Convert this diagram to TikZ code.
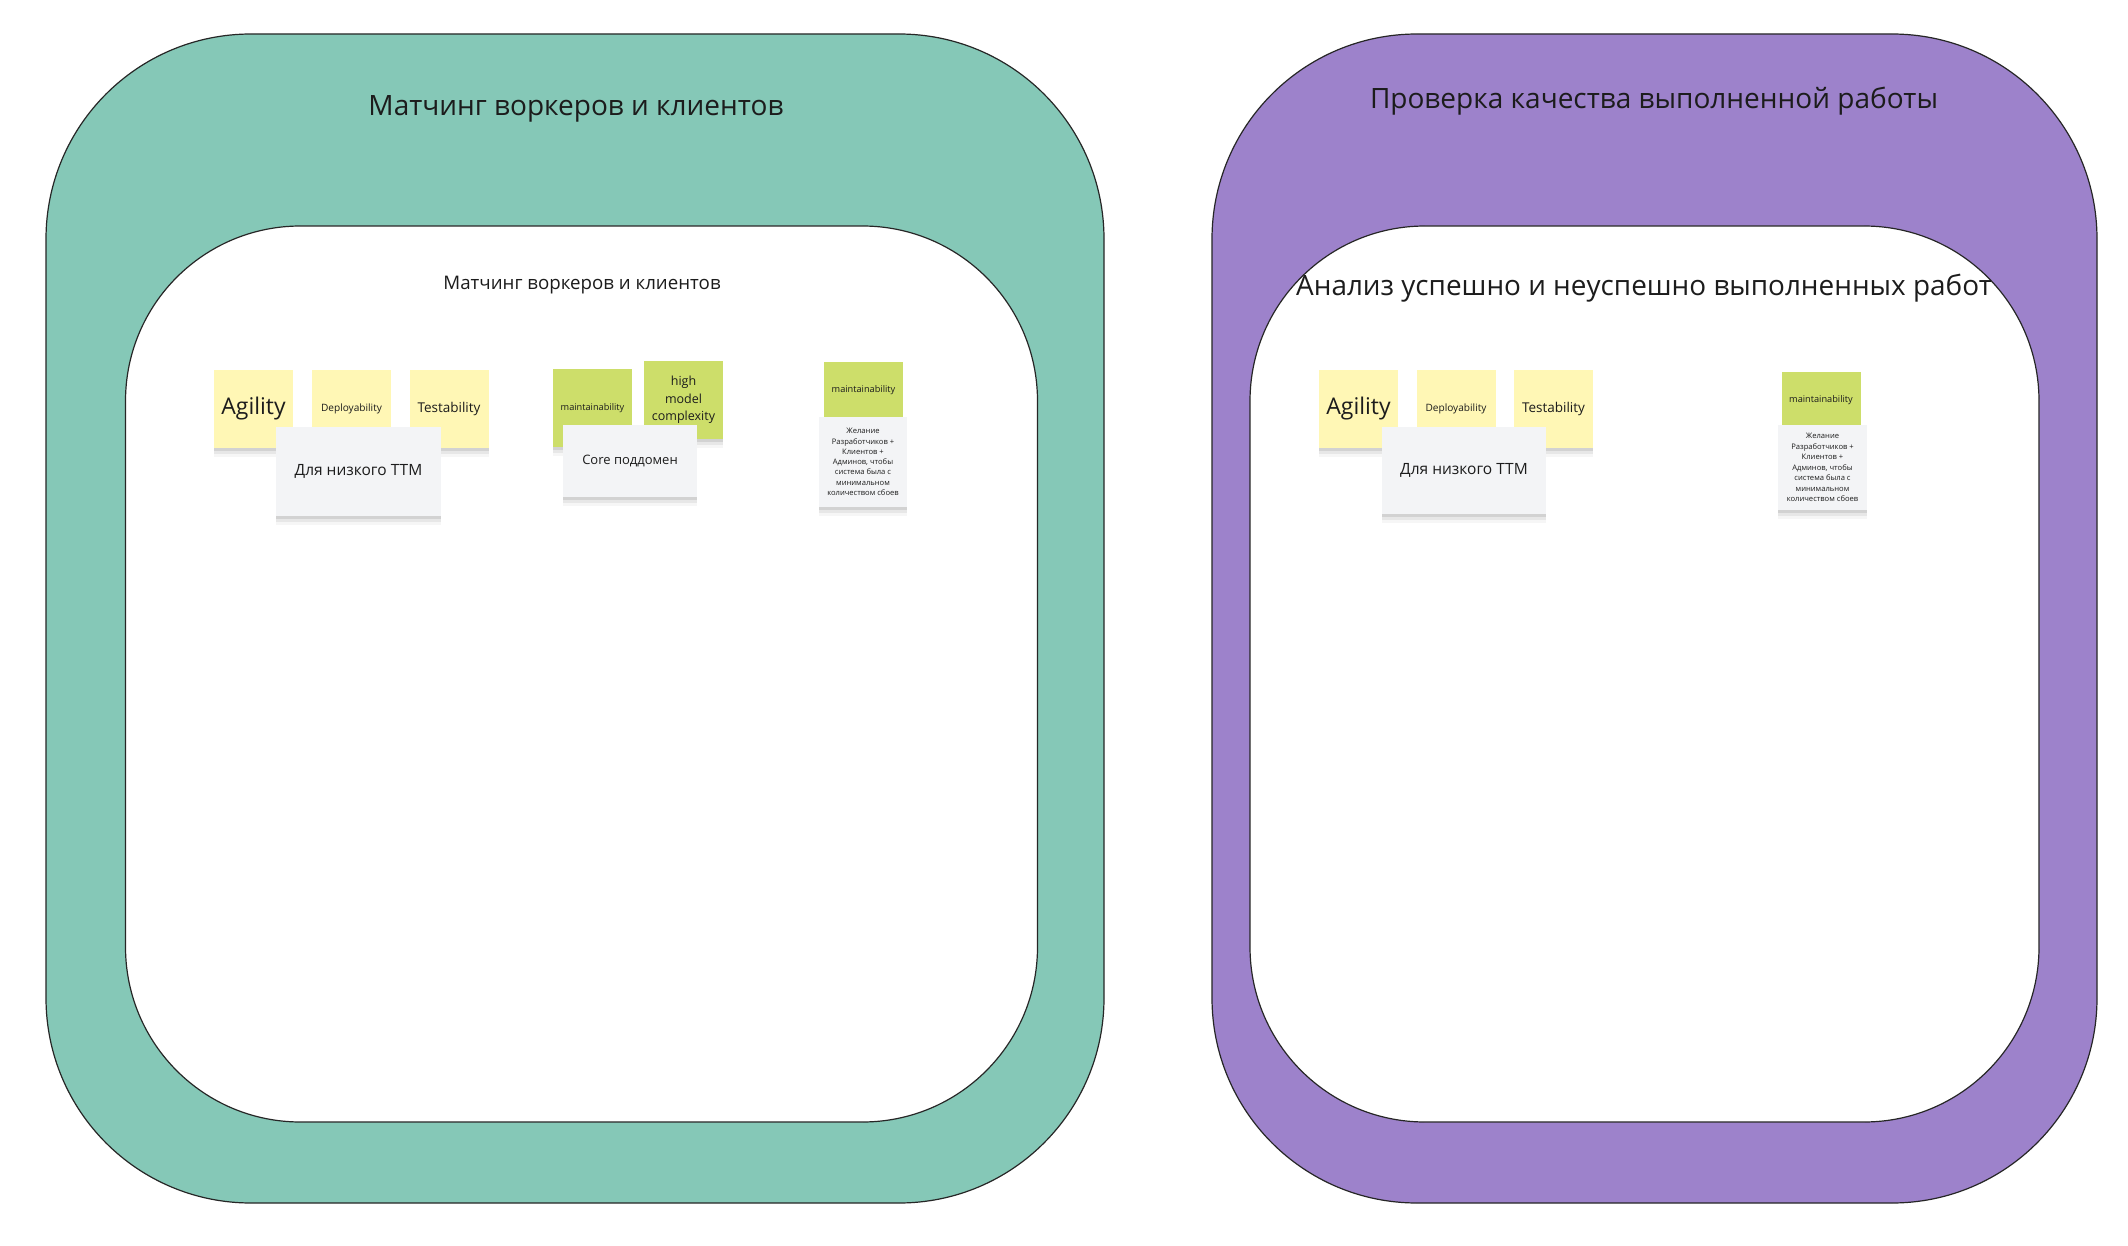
\documentclass[tikz,border=0pt]{standalone}
\usepackage{fontspec}
\setmainfont{Open Sans}
\definecolor{tealbg}{HTML}{85C8B7}
\definecolor{purplebg}{HTML}{9D82CB}
\definecolor{stickyY}{HTML}{FFF7B5}
\definecolor{stickyG}{HTML}{CDDE6A}
\definecolor{cardG}{HTML}{F3F4F6}
\definecolor{ink}{HTML}{1C1C1C}
\tikzset{
  frame/.style={draw=black!85, line width=1.2pt, inner sep=0pt, outer sep=0pt},
  shadowed/.style={
    preaction={fill=black, fill opacity=0.035, transform canvas={yshift=-9pt}},
    preaction={fill=black, fill opacity=0.06, transform canvas={yshift=-6pt}},
    preaction={fill=black, fill opacity=0.09, transform canvas={yshift=-3pt}}},
  sticky/.style={shadowed, inner sep=1pt, outer sep=0pt, align=center, text=ink},
  yel/.style={sticky, fill=stickyY, minimum width=79pt, minimum height=78pt},
  grn/.style={sticky, fill=stickyG},
  card/.style={sticky, fill=cardG},
  ttl/.style={anchor=base, text=ink, inner sep=0pt},
}
\begin{document}
\begin{tikzpicture}[x=1pt,y=-1pt]
\useasboundingbox (0,0) rectangle (2128,1246);
\fill[white] (0,0) rectangle (2128,1246);

% ---------- left frame ----------
\node[frame, fill=tealbg, rounded corners=205pt, minimum width=1058pt, minimum height=1169pt] (outerL) at (575,618.5) {};
\node[frame, fill=white, rounded corners=175pt, minimum width=912pt, minimum height=896pt] (innerL) at (581.5,674) {};
\node[ttl, font=\fontsize{28}{33}\selectfont] (titleL) at (576,116) {Матчинг воркеров и клиентов};
\node[ttl, font=\fontsize{18.7}{23}\selectfont] (subL) at (582,290) {Матчинг воркеров и клиентов};

\node[yel, font=\fontsize{23}{27}\selectfont] (agL) at (253.5,409) {Agility};
\node[yel, font=\fontsize{10.1}{12}\selectfont] (deL) at (351.5,409) {Deployability};
\node[yel, font=\fontsize{13.5}{16}\selectfont] (teL) at (449,409) {Testability};
\node[card, minimum width=165pt, minimum height=89pt, font=\fontsize{15.5}{19}\selectfont] (ttmL) at (358.5,471.5) {Для низкого ТТМ};

\node[grn, minimum width=79pt, minimum height=78pt, font=\fontsize{9.2}{11}\selectfont] (mtL) at (592.5,408) {maintainability};
\node[grn, minimum width=79pt, minimum height=78pt, font=\fontsize{12.5}{17.5}\selectfont] (hmcL) at (683.5,400) {high\\model\\complexity};
\node[card, minimum width=134pt, minimum height=72pt, font=\fontsize{13}{16}\selectfont] (coreL) at (630,461) {Core поддомен};

\node[grn, minimum width=79pt, minimum height=78pt, anchor=north, font=\fontsize{9.2}{11}\selectfont, text depth=24pt] (mt2L) at (863.5,362) {maintainability};
\node[card, minimum width=88pt, minimum height=90pt, font=\fontsize{7.6}{10.3}\selectfont] (wishL) at (863,462) {Желание\\Разработчиков +\\Клиентов +\\Админов, чтобы\\система была с\\минимальном\\количеством сбоев};

% ---------- right frame ----------
\node[frame, fill=purplebg, rounded corners=205pt, minimum width=885pt, minimum height=1169pt] (outerR) at (1654.5,618.5) {};
\node[frame, fill=white, rounded corners=175pt, minimum width=789pt, minimum height=896pt] (innerR) at (1644.5,674) {};
\node[ttl, font=\fontsize{28}{33}\selectfont] (titleR) at (1654,109) {Проверка качества выполненной работы};
\node[ttl, font=\fontsize{27.9}{34}\selectfont] (subR) at (1644,296) {Анализ успешно и неуспешно выполненных работ};

\node[yel, font=\fontsize{23}{27}\selectfont] (agR) at (1358.5,409) {Agility};
\node[yel, font=\fontsize{10.1}{12}\selectfont] (deR) at (1456,409) {Deployability};
\node[yel, font=\fontsize{13.5}{16}\selectfont] (teR) at (1553.5,409) {Testability};
\node[card, minimum width=164pt, minimum height=87pt, font=\fontsize{15.5}{19}\selectfont] (ttmR) at (1464,470.5) {Для низкого ТТМ};

\node[grn, minimum width=79pt, minimum height=78pt, anchor=north, font=\fontsize{9.2}{11}\selectfont, text depth=24pt] (mtR) at (1821,372) {maintainability};
\node[card, minimum width=89pt, minimum height=85pt, font=\fontsize{7.6}{10.5}\selectfont] (wishR) at (1822.5,467.5) {Желание\\Разработчиков +\\Клиентов +\\Админов, чтобы\\система была с\\минимальном\\количеством сбоев};
\end{tikzpicture}
\end{document}
